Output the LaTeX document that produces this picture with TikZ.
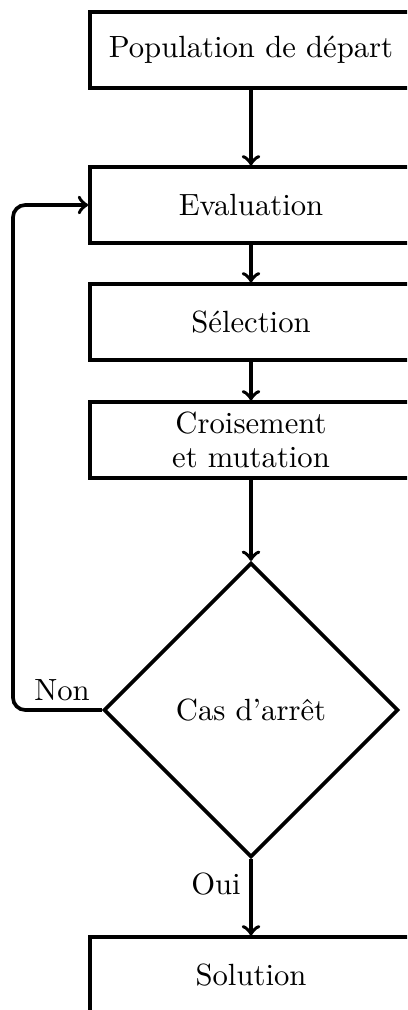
\documentclass[tikz,border=0pt]{standalone}
\usetikzlibrary{shapes.geometric,calc}
\begin{document}
\begin{tikzpicture}[x=0.326pt,y=-0.326pt,
  stepbox/.style={draw,very thick,rectangle,minimum width=105pt,minimum height=24.6pt,align=center,inner sep=0pt},
  testbox/.style={draw,very thick,diamond,minimum width=96pt,minimum height=96pt,inner sep=0pt},
  flow/.style={->,very thick}]
\useasboundingbox (0,0) rectangle (407,1010);
\clip (0,0) rectangle (407,1010);
% main chain of steps
\node[stepbox] (pop) at (251,50) {Population de départ};
\node[stepbox] (eval) at (251,205) {Evaluation};
\node[stepbox] (sel) at (251,322) {Sélection};
\node[stepbox] (cross) at (251,440) {Croisement\\[-1pt]et mutation};
\node[testbox] (stop) at (251,710) {Cas d'arrêt};
\node[stepbox] (sol) at (251,975) {Solution};
\coordinate (back) at (13,710);
\draw[flow] (pop) -- (eval);
\draw[flow] (eval) -- (sel);
\draw[flow] (sel) -- (cross);
\draw[flow] (cross) -- (stop);
\draw[flow] (stop) -- (sol);
% loop back when the stop test fails
\draw[flow,rounded corners=4pt] (stop.west) -- (back) |- (eval.west);
\node (non) at (62,690) {Non};
\node (oui) at (216,884) {Oui};
\end{tikzpicture}
\end{document}
